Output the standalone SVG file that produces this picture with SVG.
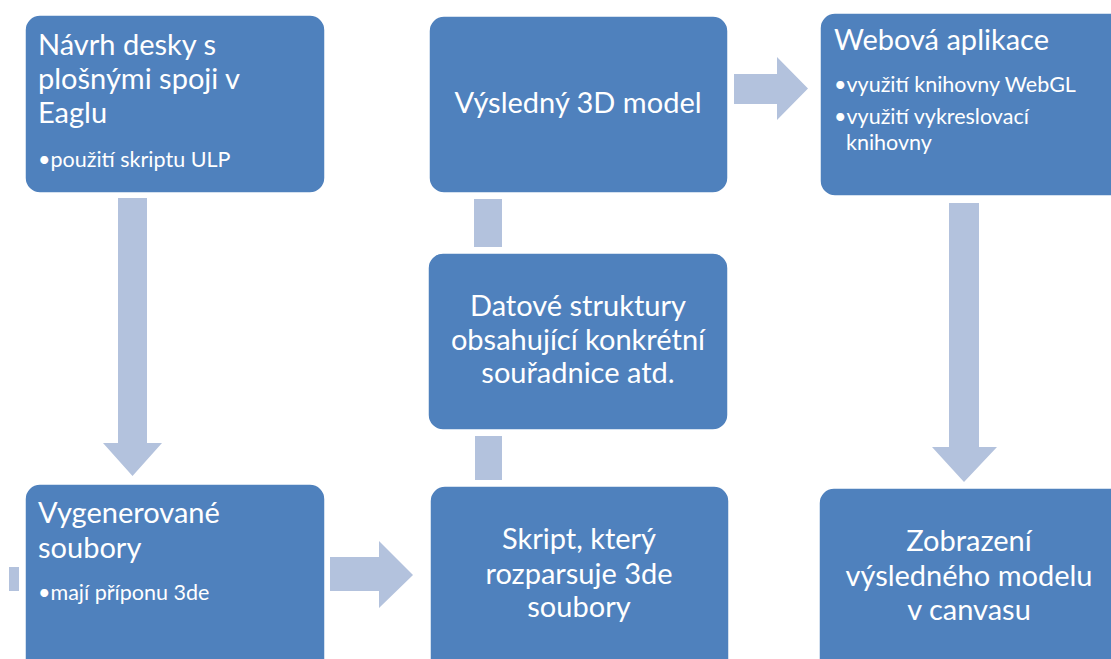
<svg xmlns="http://www.w3.org/2000/svg" width="1111" height="659" viewBox="0 0 1111 659">
<style>
.box{fill:#4F81BD;stroke:#FFFFFF;stroke-width:1.5}
.con{fill:#B3C2DD}
text{font-family:Lato,"Liberation Sans",sans-serif;fill:#FFFFFF}
.t{font-size:29px}
.b{font-size:21.5px}
.c{text-anchor:middle}
</style>
<rect width="1111" height="659" fill="#FFFFFF"/>
<g id="connectors">
<polygon class="con" points="118,198 147,198 147,443 162,443 132.5,476 103,443 118,443"/>
<polygon class="con" points="949,203 979,203 979,447 997,447 964,482 932,447 949,447"/>
<polygon class="con" points="734,74 777,74 777,57 808,88.5 777,120 777,104 734,104"/>
<polygon class="con" points="330,557 379,557 379,541 413,575 379,608 379,591 330,591"/>
<rect class="con" x="474" y="199" width="28" height="48"/>
<rect class="con" x="475" y="436" width="27" height="44"/>
<rect class="con" x="9" y="567" width="10" height="24"/>
</g>
<g id="n1">
<rect class="box" x="25" y="15" width="300" height="178" rx="15"/>
<text class="t" x="38" y="55">Návrh desky s</text>
<text class="t" x="38" y="89">plošnými spoji v</text>
<text class="t" x="38" y="123">Eaglu</text>
<text class="b" x="38" y="167">•použití skriptu ULP</text>
</g>
<g id="n2">
<rect class="box" x="429" y="16" width="299" height="177" rx="15"/>
<text class="t c" x="578" y="113">Výsledný 3D model</text>
</g>
<g id="n3">
<rect class="box" x="820" y="13" width="306" height="183" rx="15"/>
<text class="t" x="834" y="50">Webová aplikace</text>
<text class="b" x="834" y="92">•využití knihovny WebGL</text>
<text class="b" x="834" y="124">•využití vykreslovací</text>
<text class="b" x="846" y="150">knihovny</text>
</g>
<g id="n4">
<rect class="box" x="428" y="253" width="300" height="177" rx="15"/>
<text class="t c" x="578" y="316">Datové struktury</text>
<text class="t c" x="578" y="350">obsahující konkrétní</text>
<text class="t c" x="578" y="383">souřadnice atd.</text>
</g>
<g id="n5">
<rect class="box" x="25" y="484" width="300" height="190" rx="15"/>
<text class="t" x="38" y="523">Vygenerované</text>
<text class="t" x="38" y="558">soubory</text>
<text class="b" x="38" y="600">•mají příponu 3de</text>
</g>
<g id="n6">
<rect class="box" x="430" y="486" width="299" height="190" rx="15"/>
<text class="t c" x="579" y="549">Skript, který</text>
<text class="t c" x="579" y="584">rozparsuje 3de</text>
<text class="t c" x="579" y="617">soubory</text>
</g>
<g id="n7">
<rect class="box" x="819" y="488" width="310" height="190" rx="15"/>
<text class="t c" x="969" y="551">Zobrazení</text>
<text class="t c" x="969" y="586">výsledného modelu</text>
<text class="t c" x="969" y="620">v canvasu</text>
</g>
</svg>
